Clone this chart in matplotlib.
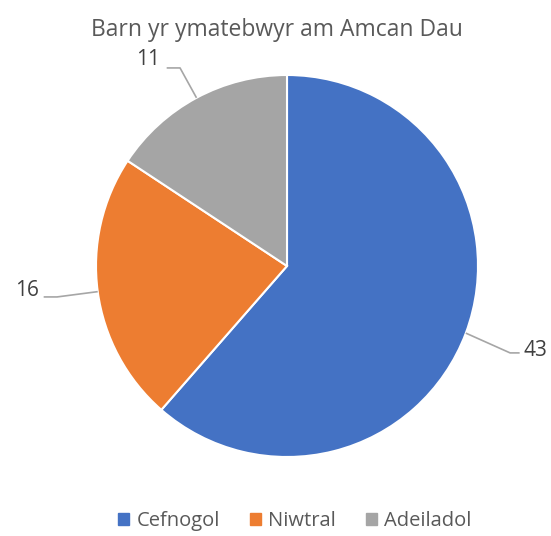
import matplotlib
matplotlib.use("Agg")
import matplotlib.pyplot as plt
import numpy as np

categories = ["Cefnogol", "Niwtral", "Adeiladol"]
values = [43, 16, 11]
colors = ["#4472C4", "#ED7D31", "#A5A5A5"]
title = "Barn yr ymatebwyr am Amcan Dau"

plt.rcParams['font.family'] = ['Open Sans', 'DejaVu Sans']

W, H = 551, 536
fig = plt.figure(figsize=(W/100, H/100), dpi=100)

# pie axes: center (287,266), radius 191 px
cx, cy, r = 287, 266, 191
ax = fig.add_axes([(cx - r*1.5)/W, 1 - (cy + r*1.5)/H, 3*r/W, 3*r/H])

wedges, _ = ax.pie(values, colors=colors, startangle=90, counterclock=False,
                   radius=1.0, wedgeprops=dict(edgecolor='white', linewidth=1.5))
ax.set_xlim(-1.5, 1.5)
ax.set_ylim(-1.5, 1.5)
ax.set_aspect('equal')
ax.axis('off')

# label offsets (elbow, text) per wedge
elbows = [(1.168, -0.455), (-1.204, -0.162), (-0.56, 1.037)]
texts = [(1.24, -0.44), (-1.30, -0.13), (-0.665, 1.08)]
has = ['left', 'right', 'right']
for w, v, el, tx, ha in zip(wedges, values, elbows, texts, has):
    ang = np.deg2rad((w.theta1 + w.theta2) / 2)
    ex, ey = np.cos(ang), np.sin(ang)
    if ha == 'left':
        hx = el[0] + 0.05
    else:
        hx = el[0] - 0.07
    ax.plot([ex, el[0], hx], [ey, el[1], el[1]], color='#A6A6A6', lw=1.2,
            solid_capstyle='butt', clip_on=False)
    ax.text(tx[0], tx[1], str(v), ha=ha, va='center',
            fontsize=15, color='#404040', clip_on=False)

fig.text(277/W, 1 - 30/H, title, ha='center', va='center', fontsize=16.5, color='#595959')

# legend
handles = [plt.Rectangle((0, 0), 1, 1, color=c) for c in colors]
fig.legend(handles, categories, loc='center', bbox_to_anchor=(295/W, 1 - 521/H),
           ncol=3, frameon=False, fontsize=14.5, labelcolor='#595959',
           handlelength=0.55, handleheight=0.55, handletextpad=0.35, columnspacing=1.5)

fig.savefig("out.png", dpi=100)
